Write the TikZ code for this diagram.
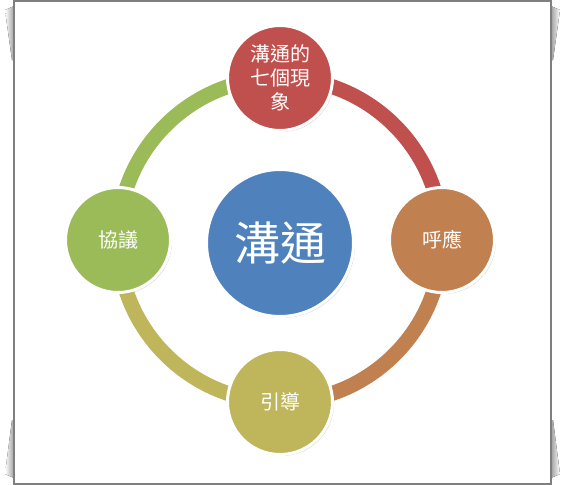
\documentclass[tikz,border=0pt]{standalone}
\usepackage{fontspec}
\newfontfamily\cjk{Noto Sans CJK TC}
\usetikzlibrary{shadows}
\definecolor{hubblue}{HTML}{4F81BD}
\definecolor{topred}{HTML}{C0504D}
\definecolor{rightbrown}{HTML}{C0804F}
\definecolor{bottomolive}{HTML}{BFB55A}
\definecolor{leftgreen}{HTML}{9BBB59}
\definecolor{framegray}{HTML}{7F7F7F}
\tikzset{
  bubble/.style={circle, draw=white, line width=3pt, inner sep=0pt,
    minimum size=105pt, text=white, align=center,
    font=\cjk\fontsize{20}{24}\selectfont,
    drop shadow={shadow xshift=1.5pt, shadow yshift=-1.5pt, opacity=.3}},
  hub/.style={bubble, minimum size=147pt, font=\cjk\fontsize{46}{50}\selectfont},
  ring/.style={line width=15pt},
  curl/.style={left color=white, right color=gray!75, draw=none}
}
\begin{document}
\begin{tikzpicture}[x=1pt,y=-1pt]
        \useasboundingbox (0,0) rectangle (566,485);
        % page curl shadows
        \fill[curl] (14,6) -- (5,10) -- (12,60) -- (14,60) -- cycle;
        \fill[curl] (14,478) -- (5,474) -- (12,420) -- (14,420) -- cycle;
        \fill[curl, left color=gray!75, right color=white] (551,6) -- (560,10) -- (553,60) -- (551,60) -- cycle;
        \fill[curl, left color=gray!75, right color=white] (551,478) -- (560,474) -- (553,420) -- (551,420) -- cycle;
        \draw[framegray, line width=1.5pt, fill=white] (14,1) rectangle (551,484);
        % positions
        \coordinate (top) at (280,78);
        \coordinate (right) at (442,240);
        \coordinate (bottom) at (280,402);
        \coordinate (left) at (118,240);
        % ring
        \draw[ring, topred] (top) arc[start angle=90, end angle=0, radius=162pt];
        \draw[ring, rightbrown] (right) arc[start angle=0, end angle=-90, radius=162pt];
        \draw[ring, bottomolive] (bottom) arc[start angle=-90, end angle=-180, radius=162pt];
        \draw[ring, leftgreen] (left) arc[start angle=180, end angle=90, radius=162pt];
        % circles
        \node[hub, fill=hubblue] (core) at (280,243) {溝通};
        \node[bubble, fill=topred] (seven) at (top) {溝通的\\七個現\\象};
        \node[bubble, fill=rightbrown] (echo) at (right) {呼應};
        \node[bubble, fill=bottomolive] (guide) at (bottom) {引導};
        \node[bubble, fill=leftgreen] (talk) at (left) {協議};
      \end{tikzpicture}
\end{document}
